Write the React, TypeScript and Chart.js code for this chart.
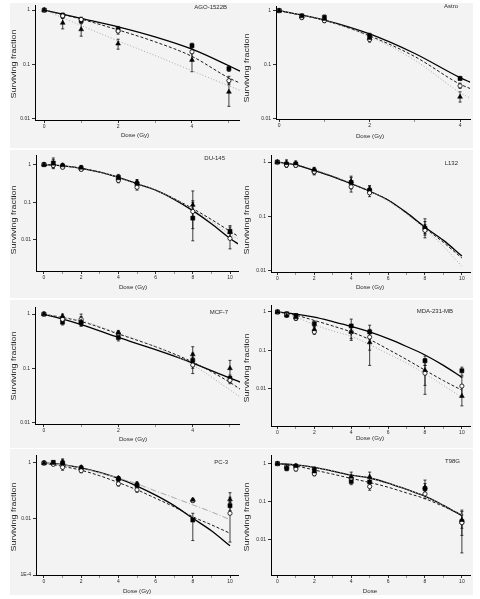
import React, { useEffect, useRef } from 'react';
import { Chart, registerables } from 'chart.js';

Chart.register(...registerables);

const FONT = '"Liberation Sans", Arial, Helvetica, sans-serif';

// ---------- AGO-1522B ----------
const agoDose = [0, 0.5, 1, 2, 4, 5];
const agoSq = [1, 0.8, 0.64, 0.44, 0.22, 0.083];
const agoSqLo = [1, 0.72, 0.57, 0.39, 0.16, 0.074];
const agoSqHi = [1, 0.88, 0.72, 0.5, 0.245, 0.093];
const agoCi = [1, 0.78, 0.67, 0.41, 0.17, 0.05];
const agoCiLo = [1, 0.7, 0.6, 0.36, 0.12, 0.042];
const agoCiHi = [1, 0.86, 0.74, 0.46, 0.23, 0.06];
const agoTr = [1, 0.58, 0.44, 0.24, 0.12, 0.031];
const agoTrLo = [1, 0.45, 0.33, 0.19, 0.073, 0.0168];
const agoTrHi = [1, 0.7, 0.56, 0.29, 0.18, 0.045];
const agoFitDose = [0, 1, 2, 3, 4, 5, 5.3];
const agoFitSq = [1, 0.7, 0.49, 0.32, 0.19, 0.094, 0.075];
const agoFitCi = [1, 0.68, 0.43, 0.26, 0.14, 0.056, 0.045];
const agoFitTr = [1, 0.52, 0.27, 0.145, 0.076, 0.04, 0.033];

// ---------- Astro ----------
const astroDose = [0, 0.5, 1, 2, 4];
const astroSq = [1, 0.8, 0.75, 0.34, 0.055];
const astroSqLo = [1, 0.75, 0.68, 0.3, 0.051];
const astroSqHi = [1, 0.86, 0.83, 0.38, 0.06];
const astroCi = [1, 0.74, 0.65, 0.29, 0.04];
const astroCiLo = [1, 0.7, 0.6, 0.26, 0.036];
const astroCiHi = [1, 0.79, 0.7, 0.32, 0.045];
const astroTr = [1, 0.78, 0.7, 0.31, 0.025];
const astroTrLo = [1, 0.72, 0.63, 0.28, 0.02];
const astroTrHi = [1, 0.84, 0.78, 0.35, 0.031];
const astroFitDose = [0, 1, 2, 3, 4, 4.25];
const astroFitSq = [1, 0.67, 0.37, 0.16, 0.057, 0.046];
const astroFitCi = [1, 0.66, 0.34, 0.14, 0.043, 0.035];
const astroFitTr = [1, 0.66, 0.33, 0.12, 0.03, 0.023];

// ---------- DU-145 ----------
const duDose = [0, 0.5, 1, 2, 4, 5, 8, 10];
const duSq = [1, 1.1, 0.92, 0.8, 0.46, 0.31, 0.038, 0.017];
const duSqLo = [1, 0.78, 0.8, 0.7, 0.38, 0.26, 0.0095, 0.011];
const duSqHi = [1, 1.5, 1.08, 0.95, 0.55, 0.37, 0.1, 0.024];
const duCi = [1, 0.95, 0.85, 0.75, 0.38, 0.25, 0.057, 0.011];
const duCiLo = [1, 0.82, 0.78, 0.68, 0.33, 0.21, 0.02, 0.0058];
const duCiHi = [1, 1.1, 0.95, 0.85, 0.44, 0.3, 0.11, 0.016];
const duTr = [1, 1.05, 0.95, 0.82, 0.43, 0.35, 0.085, 0.016];
const duTrLo = [1, 0.85, 0.85, 0.72, 0.37, 0.3, 0.04, 0.012];
const duTrHi = [1, 1.35, 1.05, 0.95, 0.5, 0.4, 0.2, 0.022];
const duFitDose = [0, 1, 2, 3, 4, 5, 6, 7, 8, 9, 10, 10.5];
const duFitSq = [1, 0.93, 0.8, 0.63, 0.46, 0.31, 0.21, 0.12, 0.06, 0.027, 0.011, 0.0075];
const duFitCi = [1, 0.93, 0.8, 0.63, 0.46, 0.31, 0.21, 0.125, 0.068, 0.035, 0.017, 0.012];
const duFitTr = [1, 0.93, 0.8, 0.63, 0.46, 0.31, 0.21, 0.123, 0.064, 0.031, 0.014, 0.0105];

// ---------- L132 ----------
const lDose = [0, 0.5, 1, 2, 4, 5, 8];
const lSq = [1, 0.92, 0.92, 0.69, 0.42, 0.3, 0.06];
const lSqLo = [1, 0.82, 0.85, 0.6, 0.32, 0.26, 0.045];
const lSqHi = [1, 1.05, 1.0, 0.78, 0.52, 0.35, 0.08];
const lCi = [1, 0.88, 0.87, 0.66, 0.35, 0.27, 0.055];
const lCiLo = [1, 0.8, 0.8, 0.58, 0.28, 0.23, 0.04];
const lCiHi = [1, 0.96, 0.95, 0.74, 0.42, 0.32, 0.07];
const lTr = [1, 0.95, 0.94, 0.72, 0.44, 0.32, 0.063];
const lTrLo = [1, 0.85, 0.86, 0.65, 0.35, 0.28, 0.048];
const lTrHi = [1, 1.1, 1.05, 0.8, 0.55, 0.37, 0.09];
const lFitDose = [0, 1, 2, 3, 4, 5, 6, 7, 8, 9, 10];
const lFitSq = [1, 0.89, 0.7, 0.54, 0.4, 0.29, 0.2, 0.117, 0.063, 0.036, 0.0186];
const lFitCi = [1, 0.89, 0.7, 0.54, 0.4, 0.29, 0.2, 0.115, 0.061, 0.033, 0.017];
const lFitTr = [1, 0.92, 0.73, 0.56, 0.41, 0.3, 0.19, 0.11, 0.058, 0.028, 0.012];

// ---------- MCF-7 ----------
const mcfDose = [0, 0.5, 1, 2, 4, 5];
const mcfSq = [1, 0.71, 0.7, 0.37, 0.14, 0.065];
const mcfSqLo = [1, 0.63, 0.6, 0.32, 0.1, 0.055];
const mcfSqHi = [1, 0.8, 0.8, 0.42, 0.19, 0.075];
const mcfCi = [1, 0.8, 0.8, 0.44, 0.115, 0.06];
const mcfCiLo = [1, 0.72, 0.62, 0.4, 0.08, 0.052];
const mcfCiHi = [1, 0.88, 1.0, 0.48, 0.16, 0.07];
const mcfTr = [1, 0.92, 0.73, 0.45, 0.18, 0.1];
const mcfTrLo = [1, 0.85, 0.6, 0.41, 0.12, 0.07];
const mcfTrHi = [1, 1.0, 0.9, 0.5, 0.25, 0.14];
const mcfFitDose = [0, 1, 2, 3, 4, 5, 5.3];
const mcfFitSq = [1, 0.64, 0.37, 0.22, 0.125, 0.066, 0.055];
const mcfFitCi = [1, 0.73, 0.43, 0.25, 0.13, 0.055, 0.04];
const mcfFitTr = [1, 0.75, 0.45, 0.25, 0.115, 0.04, 0.029];

// ---------- MDA-231-MB ----------
const mdaDose = [0, 0.5, 1, 2, 4, 5, 8, 10];
const mdaSq = [1, 0.89, 0.8, 0.49, 0.43, 0.3, 0.053, 0.029];
const mdaSqLo = [1, 0.8, 0.7, 0.4, 0.3, 0.2, 0.04, 0.022];
const mdaSqHi = [1, 1.0, 0.9, 0.58, 0.65, 0.45, 0.07, 0.036];
const mdaCi = [1, 0.85, 0.68, 0.3, 0.3, 0.22, 0.025, 0.0115];
const mdaCiLo = [1, 0.78, 0.6, 0.26, 0.2, 0.1, 0.012, 0.006];
const mdaCiHi = [1, 0.92, 0.76, 0.35, 0.45, 0.35, 0.04, 0.02];
const mdaTr = [1, 0.8, 0.72, 0.35, 0.3, 0.16, 0.03, 0.0063];
const mdaTrLo = [1, 0.72, 0.64, 0.29, 0.18, 0.04, 0.007, 0.0035];
const mdaTrHi = [1, 0.88, 0.8, 0.42, 0.45, 0.3, 0.06, 0.012];
const mdaFitDose = [0, 1, 2, 3, 4, 5, 6, 7, 8, 9, 10];
const mdaFitSq = [1, 0.88, 0.73, 0.56, 0.42, 0.3, 0.2, 0.125, 0.075, 0.04, 0.0195];
const mdaFitCi = [1, 0.82, 0.6, 0.43, 0.3, 0.19, 0.105, 0.057, 0.03, 0.016, 0.009];
const mdaFitTr = [1, 0.74, 0.46, 0.32, 0.23, 0.14, 0.08, 0.046, 0.024, 0.012, 0.0058];

// ---------- PC-3 ----------
const pcDose = [0, 0.5, 1, 2, 4, 5, 8, 10];
const pcSq = [1, 1.05, 1.0, 0.65, 0.27, 0.16, 0.0092, 0.03];
const pcSqLo = [1, 0.9, 0.75, 0.55, 0.22, 0.13, 0.0017, 0.02];
const pcSqHi = [1, 1.2, 1.3, 0.78, 0.33, 0.2, 0.016, 0.04];
const pcCi = [1, 0.9, 0.7, 0.53, 0.18, 0.11, 0.045, 0.016];
const pcCiLo = [1, 0.8, 0.55, 0.45, 0.15, 0.09, 0.04, 0.0015];
const pcCiHi = [1, 1.0, 1.4, 0.6, 0.21, 0.13, 0.05, 0.087];
const pcTr = [1, 1.0, 1.05, 0.7, 0.29, 0.18, 0.048, 0.05];
const pcTrLo = [1, 0.9, 0.9, 0.6, 0.25, 0.15, 0.042, 0.04];
const pcTrHi = [1, 1.1, 1.2, 0.8, 0.33, 0.21, 0.055, 0.06];
const pcFitDose = [0, 1, 2, 3, 4, 5, 6, 7, 8, 9, 10];
const pcFitSq = [1, 0.87, 0.67, 0.46, 0.28, 0.15, 0.071, 0.03, 0.0106, 0.0038, 0.0011];
const pcFitCi = [1, 0.76, 0.55, 0.35, 0.2, 0.11, 0.055, 0.027, 0.012, 0.0062, 0.0031];
const pcFitTr = [1, 0.85, 0.65, 0.44, 0.29, 0.18, 0.1, 0.057, 0.032, 0.018, 0.0095];

// ---------- T98G ----------
const tDose = [0, 0.5, 1, 2, 4, 5, 8, 10];
const tSq = [1, 0.75, 0.85, 0.7, 0.34, 0.33, 0.22, 0.03];
const tSqLo = [1, 0.65, 0.72, 0.58, 0.28, 0.25, 0.16, 0.0045];
const tSqHi = [1, 0.85, 0.95, 0.82, 0.42, 0.42, 0.3, 0.06];
const tCi = [1, 0.85, 0.72, 0.54, 0.42, 0.25, 0.16, 0.028];
const tCiLo = [1, 0.78, 0.64, 0.48, 0.35, 0.2, 0.12, 0.013];
const tCiHi = [1, 0.92, 0.8, 0.62, 0.5, 0.3, 0.22, 0.045];
const tTr = [1, 0.82, 0.88, 0.62, 0.45, 0.45, 0.24, 0.033];
const tTrLo = [1, 0.72, 0.78, 0.52, 0.36, 0.32, 0.16, 0.02];
const tTrHi = [1, 0.92, 0.98, 0.72, 0.6, 0.6, 0.37, 0.055];
const tFitDose = [0, 1, 2, 3, 4, 5, 6, 7, 8, 9, 10];
const tFitSq = [1, 0.93, 0.8, 0.64, 0.5, 0.42, 0.31, 0.21, 0.14, 0.08, 0.043];
const tFitCi = [1, 0.87, 0.68, 0.53, 0.41, 0.32, 0.24, 0.17, 0.12, 0.075, 0.045];
const tFitTr = [1, 0.93, 0.8, 0.65, 0.51, 0.42, 0.31, 0.21, 0.14, 0.08, 0.045];

// ---------- Tick labels ----------
const yTicksStd = [0.01, 0.1, 1];
const yLabelsStd = ['0.01', '0.1', '1'];
const yTicksPC = [1e-4, 0.01, 1];
const yLabelsPC = ['1E-4', '0.01', '1'];
const xTicks5 = [0, 1, 2, 3, 4, 5];
const xLabels5 = ['0', '', '2', '', '4', ''];
const xTicks4 = [0, 1, 2, 3, 4];
const xLabels4 = ['0', '', '2', '', '4'];
const xTicks10 = [0, 1, 2, 3, 4, 5, 6, 7, 8, 9, 10];
const xLabels10 = ['0', '', '2', '', '4', '', '6', '', '8', '', '10'];

type Panel = {
  name: string; xTitle: string;
  dose: number[];
  sq: number[]; sqLo: number[]; sqHi: number[];
  ci: number[]; ciLo: number[]; ciHi: number[];
  tr: number[]; trLo: number[]; trHi: number[];
  fitDose: number[]; fitSq: number[]; fitCi: number[]; fitTr: number[];
  xTicks: number[]; xLabels: string[]; yTicks: number[]; yLabels: string[];
  // layout (positions only)
  ox: number; oy: number;
  area: { l: number; t: number; r: number; b: number };
  xr: [number, number]; yr: [number, number];
  nameAt: [number, number]; xtAt: [number, number]; ytAt: [number, number];
  bg: [number, number, number, number];
  grayDash: number[];
};

const panels: Panel[] = [
  {
    name: 'AGO-1522B', xTitle: 'Dose (Gy)', dose: agoDose,
    sq: agoSq, sqLo: agoSqLo, sqHi: agoSqHi, ci: agoCi, ciLo: agoCiLo, ciHi: agoCiHi,
    tr: agoTr, trLo: agoTrLo, trHi: agoTrHi,
    fitDose: agoFitDose, fitSq: agoFitSq, fitCi: agoFitCi, fitTr: agoFitTr,
    xTicks: xTicks5, xLabels: xLabels5, yTicks: yTicksStd, yLabels: yLabelsStd,
    ox: 0, oy: 0, area: { l: 35, t: 5, r: 240, b: 120 }, xr: [-0.25, 5.3], yr: [0.0094, 1.24],
    nameAt: [227, 7], xtAt: [135, 135], ytAt: [14, 64], bg: [10, 3, 230, 145], grayDash: [1, 2],
  },
  {
    name: 'Astro', xTitle: 'Dose (Gy)', dose: astroDose,
    sq: astroSq, sqLo: astroSqLo, sqHi: astroSqHi, ci: astroCi, ciLo: astroCiLo, ciHi: astroCiHi,
    tr: astroTr, trLo: astroTrLo, trHi: astroTrHi,
    fitDose: astroFitDose, fitSq: astroFitSq, fitCi: astroFitCi, fitTr: astroFitTr,
    xTicks: xTicks4, xLabels: xLabels4, yTicks: yTicksStd, yLabels: yLabelsStd,
    ox: 240, oy: 0, area: { l: 36, t: 6, r: 230, b: 119 }, xr: [-0.07, 4.22], yr: [0.0097, 1.22],
    nameAt: [218, 6], xtAt: [130, 136], ytAt: [7, 68], bg: [0, 3, 233, 145], grayDash: [1, 2],
  },
  {
    name: 'DU-145', xTitle: 'Dose (Gy)', dose: duDose,
    sq: duSq, sqLo: duSqLo, sqHi: duSqHi, ci: duCi, ciLo: duCiLo, ciHi: duCiHi,
    tr: duTr, trLo: duTrLo, trHi: duTrHi,
    fitDose: duFitDose, fitSq: duFitSq, fitCi: duFitCi, fitTr: duFitTr,
    xTicks: xTicks10, xLabels: xLabels10, yTicks: yTicksStd, yLabels: yLabelsStd,
    ox: 0, oy: 150, area: { l: 36, t: 5, r: 238, b: 121 }, xr: [-0.43, 10.43], yr: [0.0015, 1.8],
    nameAt: [225, 8], xtAt: [133, 137], ytAt: [14, 70], bg: [10, 0, 230, 148], grayDash: [1, 2],
  },
  {
    name: 'L132', xTitle: 'Dose (Gy)', dose: lDose,
    sq: lSq, sqLo: lSqLo, sqHi: lSqHi, ci: lCi, ciLo: lCiLo, ciHi: lCiHi,
    tr: lTr, trLo: lTrLo, trHi: lTrHi,
    fitDose: lFitDose, fitSq: lFitSq, fitCi: lFitCi, fitTr: lFitTr,
    xTicks: xTicks10, xLabels: xLabels10, yTicks: yTicksStd, yLabels: yLabelsStd,
    ox: 240, oy: 150, area: { l: 31, t: 5, r: 230, b: 122 }, xr: [-0.34, 10.44], yr: [0.0094, 1.35],
    nameAt: [218, 13], xtAt: [130, 137], ytAt: [7, 70], bg: [0, 0, 233, 148], grayDash: [1, 2],
  },
  {
    name: 'MCF-7', xTitle: 'Dose (Gy)', dose: mcfDose,
    sq: mcfSq, sqLo: mcfSqLo, sqHi: mcfSqHi, ci: mcfCi, ciLo: mcfCiLo, ciHi: mcfCiHi,
    tr: mcfTr, trLo: mcfTrLo, trHi: mcfTrHi,
    fitDose: mcfFitDose, fitSq: mcfFitSq, fitCi: mcfFitCi, fitTr: mcfFitTr,
    xTicks: xTicks5, xLabels: xLabels5, yTicks: yTicksStd, yLabels: yLabelsStd,
    ox: 0, oy: 300, area: { l: 35, t: 7, r: 240, b: 124 }, xr: [-0.24, 5.27], yr: [0.0094, 1.35],
    nameAt: [228, 12], xtAt: [133, 139], ytAt: [14, 66], bg: [10, 0, 230, 148], grayDash: [1, 2],
  },
  {
    name: 'MDA-231-MB', xTitle: 'Dose (Gy)', dose: mdaDose,
    sq: mdaSq, sqLo: mdaSqLo, sqHi: mdaSqHi, ci: mdaCi, ciLo: mdaCiLo, ciHi: mdaCiHi,
    tr: mdaTr, trLo: mdaTrLo, trHi: mdaTrHi,
    fitDose: mdaFitDose, fitSq: mdaFitSq, fitCi: mdaFitCi, fitTr: mdaFitTr,
    xTicks: xTicks10, xLabels: xLabels10, yTicks: yTicksStd, yLabels: yLabelsStd,
    ox: 240, oy: 300, area: { l: 31, t: 5, r: 230, b: 126 }, xr: [-0.35, 10.44], yr: [0.00104, 1.52],
    nameAt: [213, 11], xtAt: [130, 138], ytAt: [7, 68], bg: [0, 0, 233, 148], grayDash: [1, 2],
  },
  {
    name: 'PC-3', xTitle: 'Dose (Gy)', dose: pcDose,
    sq: pcSq, sqLo: pcSqLo, sqHi: pcSqHi, ci: pcCi, ciLo: pcCiLo, ciHi: pcCiHi,
    tr: pcTr, trLo: pcTrLo, trHi: pcTrHi,
    fitDose: pcFitDose, fitSq: pcFitSq, fitCi: pcFitCi, fitTr: pcFitTr,
    xTicks: xTicks10, xLabels: xLabels10, yTicks: yTicksPC, yLabels: yLabelsPC,
    ox: 0, oy: 449, area: { l: 36, t: 6, r: 238, b: 126 }, xr: [-0.43, 10.43], yr: [0.0001, 1.93],
    nameAt: [228, 13], xtAt: [137, 142], ytAt: [14, 68], bg: [10, 0, 230, 146], grayDash: [6, 2, 1, 2],
  },
  {
    name: 'T98G', xTitle: 'Dose', dose: tDose,
    sq: tSq, sqLo: tSqLo, sqHi: tSqHi, ci: tCi, ciLo: tCiLo, ciHi: tCiHi,
    tr: tTr, trLo: tTrLo, trHi: tTrHi,
    fitDose: tFitDose, fitSq: tFitSq, fitCi: tFitCi, fitTr: tFitTr,
    xTicks: xTicks10, xLabels: xLabels10, yTicks: yTicksStd, yLabels: yLabelsStd,
    ox: 240, oy: 449, area: { l: 31, t: 6, r: 230, b: 126 }, xr: [-0.35, 10.44], yr: [0.00118, 1.69],
    nameAt: [220, 12], xtAt: [130, 142], ytAt: [7, 68], bg: [0, 0, 233, 146], grayDash: [1, 2],
  },
];

const W = 240;
const H = 150;

function pts(xs: number[], ys: number[]) {
  return xs.map((x, i) => ({ x, y: ys[i] }));
}

function buildConfig(p: Panel): any {
  const errorBars = {
    id: 'errbars',
    beforeDatasetsDraw(chart: any) {
      const { ctx, chartArea } = chart;
      const xs = chart.scales.x;
      const ys = chart.scales.y;
      ctx.save();
      ctx.beginPath();
      ctx.rect(chartArea.left, chartArea.top, chartArea.right - chartArea.left, chartArea.bottom - chartArea.top);
      ctx.clip();
      ctx.strokeStyle = '#111';
      ctx.lineWidth = 0.8;
      chart.data.datasets.forEach((ds: any) => {
        if (!ds.errLo) return;
        ds.data.forEach((pt: any, i: number) => {
          const lo = ds.errLo[i];
          const hi = ds.errHi[i];
          if (lo == null || hi == null || lo === hi) return;
          const px = xs.getPixelForValue(pt.x);
          const y1 = ys.getPixelForValue(lo);
          const y2 = ys.getPixelForValue(hi);
          ctx.beginPath();
          ctx.moveTo(px, y1);
          ctx.lineTo(px, y2);
          ctx.moveTo(px - 1.5, y1);
          ctx.lineTo(px + 1.5, y1);
          ctx.moveTo(px - 1.5, y2);
          ctx.lineTo(px + 1.5, y2);
          ctx.stroke();
        });
      });
      ctx.restore();
    },
  };

  const texts = {
    id: 'paneltexts',
    afterDraw(chart: any) {
      const ctx = chart.ctx;
      ctx.save();
      ctx.fillStyle = '#2a2a2a';
      ctx.textBaseline = 'middle';
      ctx.textAlign = 'right';
      ctx.font = `6px ${FONT}`;
      ctx.fillText(p.name, p.nameAt[0], p.nameAt[1]);
      ctx.textAlign = 'center';
      ctx.font = `6.2px ${FONT}`;
      ctx.fillText(p.xTitle, p.xtAt[0], p.xtAt[1]);
      ctx.translate(p.ytAt[0], p.ytAt[1]);
      ctx.rotate(-Math.PI / 2);
      ctx.scale(1, 0.72);
      ctx.font = `9px ${FONT}`;
      ctx.fillText('Surviving fraction', 0, 0);
      ctx.restore();
    },
  };

  const lineBase = {
    type: 'line',
    pointRadius: 0,
    fill: false,
    cubicInterpolationMode: 'monotone',
    order: 10,
  };
  const ptBase = {
    type: 'scatter',
    showLine: false,
    borderColor: '#000',
    order: 1,
  };

  return {
    type: 'scatter',
    data: {
      datasets: [
        { ...lineBase, data: pts(p.fitDose, p.fitTr), borderColor: '#a8a8a8', borderWidth: 1, borderDash: p.grayDash },
        { ...lineBase, data: pts(p.fitDose, p.fitCi), borderColor: '#1a1a1a', borderWidth: 1, borderDash: [3, 2] },
        { ...lineBase, data: pts(p.fitDose, p.fitSq), borderColor: '#000', borderWidth: 1.3 },
        { ...ptBase, data: pts(p.dose, p.tr), errLo: p.trLo, errHi: p.trHi, pointStyle: 'triangle', pointRadius: 2.8, backgroundColor: '#000', borderWidth: 0.5 },
        { ...ptBase, data: pts(p.dose, p.ci), errLo: p.ciLo, errHi: p.ciHi, pointStyle: 'circle', pointRadius: 2.1, backgroundColor: '#fff', borderWidth: 0.8 },
        { ...ptBase, data: pts(p.dose, p.sq), errLo: p.sqLo, errHi: p.sqHi, pointStyle: 'rect', pointRadius: 2.9, backgroundColor: '#000', borderWidth: 0.5 },
      ],
    },
    options: {
      responsive: false,
      maintainAspectRatio: false,
      animation: false,
      devicePixelRatio: 1,
      events: [],
      layout: {
        autoPadding: false,
        padding: { left: 0, top: p.area.t, right: W - p.area.r, bottom: 0 },
      },
      plugins: { legend: { display: false }, tooltip: { enabled: false }, title: { display: false } },
      scales: {
        x: {
          type: 'linear',
          min: p.xr[0],
          max: p.xr[1],
          afterFit: (s: any) => {
            s.height = H - p.area.b;
            s.paddingLeft = 0;
            s.paddingRight = 0;
          },
          afterBuildTicks: (s: any) => {
            s.ticks = p.xTicks.map((v) => ({ value: v }));
          },
          ticks: {
            autoSkip: false,
            maxRotation: 0,
            padding: 1,
            color: '#2a2a2a',
            font: { size: 5, family: FONT },
            callback: (v: any) => {
              const i = p.xTicks.indexOf(Number(v));
              return i >= 0 ? p.xLabels[i] : '';
            },
          },
          grid: {
            drawOnChartArea: false,
            drawTicks: true,
            tickLength: 3,
            tickColor: (c: any) => (c.tick && p.xLabels[p.xTicks.indexOf(c.tick.value)] === '' ? '#777' : '#000'),
            tickWidth: 0.8,
          },
          border: { display: true, color: '#000', width: 1 },
        },
        y: {
          type: 'logarithmic',
          min: p.yr[0],
          max: p.yr[1],
          afterFit: (s: any) => {
            s.width = p.area.l;
            s.paddingTop = 0;
            s.paddingBottom = 0;
          },
          afterBuildTicks: (s: any) => {
            s.ticks = p.yTicks.map((v) => ({ value: v }));
          },
          ticks: {
            autoSkip: false,
            padding: 2,
            color: '#2a2a2a',
            font: { size: 5, family: FONT },
            callback: (v: any) => {
              const n = Number(v);
              const i = p.yTicks.findIndex((t) => Math.abs(Math.log10(t) - Math.log10(n)) < 1e-6);
              return i >= 0 ? p.yLabels[i] : '';
            },
          },
          grid: {
            drawOnChartArea: false,
            drawTicks: true,
            tickLength: 3,
            tickColor: '#000',
            tickWidth: 0.8,
          },
          border: { display: true, color: '#000', width: 1 },
        },
      },
    },
    plugins: [errorBars, texts],
  };
}

function PanelChart({ p }: { p: Panel }) {
  const ref = useRef<HTMLCanvasElement | null>(null);
  useEffect(() => {
    if (!ref.current) return;
    const chart = new Chart(ref.current, buildConfig(p));
    return () => chart.destroy();
  }, [p]);
  return (
    <div style={{ position: 'absolute', left: p.ox, top: p.oy, width: W, height: H }}>
      <div
        style={{
          position: 'absolute',
          left: p.bg[0],
          top: p.bg[1],
          width: p.bg[2],
          height: p.bg[3],
          background: '#f3f3f3',
        }}
      />
      <canvas
        ref={ref}
        width={W}
        height={H}
        style={{ position: 'absolute', left: 0, top: 0, width: W, height: H }}
      />
    </div>
  );
}

export default function App() {
  return (
    <div
      style={{
        position: 'absolute',
        left: 0,
        top: 0,
        width: 480,
        height: 599,
        background: '#ffffff',
        overflow: 'hidden',
      }}
    >
      {panels.map((p) => (
        <PanelChart key={p.name} p={p} />
      ))}
    </div>
  );
}
